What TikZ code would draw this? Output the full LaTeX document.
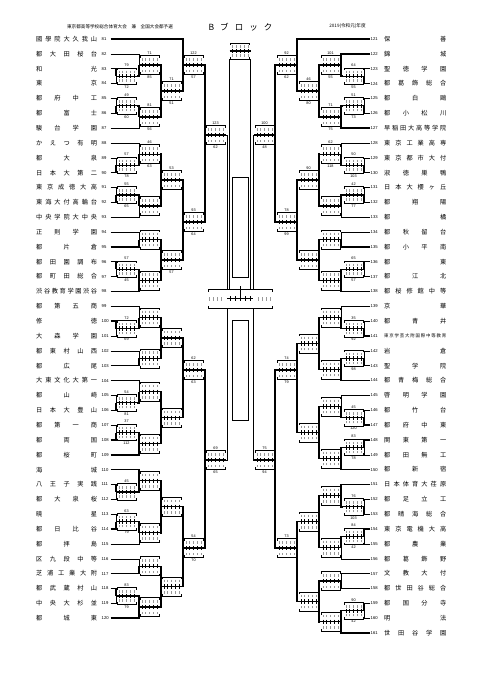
\documentclass[tikz,border=0pt]{standalone}
\usepackage{fontspec}
\newfontfamily\jp{Noto Sans CJK JP}
\newfontfamily\numf{Liberation Sans}
\newcommand\LWa{0.45pt}
\newcommand\LWb{1.4pt}
\newcommand\BX[5]{%
  \pgfmathsetmacro\bxa{#1+1}%
  \pgfmathsetmacro\bxb{#1+20}%
  \pgfmathsetmacro\bxc{#1+10.5}%
  \pgfmathsetmacro\byt{#2-#3}%
  \pgfmathsetmacro\byb{#2+#3}%
  \draw[lose] (\bxa,\byt+2.2) -- (\bxa,\byt) -- (\bxb,\byt) -- (\bxb,\byt+2.2);
  \draw[lose] (\bxa,\byb-2.2) -- (\bxa,\byb) -- (\bxb,\byb) -- (\bxb,\byb-2.2);
  \draw[line width=1.2pt] (#1,#2) -- ++(21,0);
  \foreach \k in {0,...,4}{%
    \pgfmathsetmacro\bxk{#1+2.7+\k*3.9}%
    \draw[line width=0.4pt] (\bxk,#2-2.2) -- (\bxk,#2+2.2);
    \draw[cellmk] (\bxk,\byt+2.6) -- (\bxk,\byt+5);
    \draw[cellmk] (\bxk,\byb-2.6) -- (\bxk,\byb-5);
  }%
  \node[sc] at (\bxc,\byt-2.7) {#4};
  \node[sc] at (\bxc,\byb+2.7) {#5};
}
\newcommand\MM[9]{%
  \edef\xz{\ifcase#1\or116\or139\or161\or183\or205\fi}%
  \edef\xs{\ifcase#1\or110.5\or137\or160\or182\or204\fi}%
  \if#5T\def\xst{110.5}\else\let\xst\xs\fi
  \if#6T\def\xsb{110.5}\else\let\xsb\xs\fi
  \let\lwT\LWa\let\lwB\LWa
  \if#5B\let\lwT\LWb\fi
  \if#6B\let\lwB\LWb\fi
  \if#7t\let\lwT\LWb\fi
  \if#7b\let\lwB\LWb\fi
  \ifnum#1=1 \def\hh{8.2}\else\def\hh{9.5}\fi
  \draw[line width=\lwT] (\xst,#3) -- (\xz,#3) -- (\xz,#2);
  \draw[line width=\lwB] (\xsb,#4) -- (\xz,#4) -- (\xz,#2);
  \BX{\xz}{#2}{\hh}{#8}{#9}%
}
\begin{document}
\begin{tikzpicture}[x=1pt,y=-1pt,
  lose/.style={line width=0.45pt},
  cellmk/.style={line width=0.35pt,gray!80},
  sc/.style={inner sep=0pt,font=\numf\fontsize{3.8}{4}\selectfont},
  nm/.style={anchor=west,inner sep=0pt,font=\jp\fontsize{6.2}{7}\selectfont},
  num/.style={anchor=west,inner sep=0pt,font=\numf\fontsize{4.2}{5}\selectfont},
  ttl/.style={inner sep=0pt,font=\jp\fontsize{4.6}{5}\selectfont}]
\useasboundingbox (0,0) rectangle (481,680);
\fill[white] (0,0) rectangle (481,680);
% header
\node[ttl] (title) at (120,26.5) {東京都高等学校総合体育大会　兼　全国大会都予選};
\node[inner sep=0pt,font=\jp\fontsize{8.5}{9}\selectfont] (blk) at (240.5,27) {\makebox[64pt][s]{B ブ ロ ッ ク}};
\node[ttl] (year) at (347.5,26.5) {2019(令和元)年度};
% left teams
\foreach \n/\t in {81/國 學 院 大 久 我 山,82/都 大 田 桜 台,83/和 光,84/東 京,85/都 府 中 工,86/都 富 士,87/駿 台 学 園,88/か え つ 有 明,89/都 大 泉,90/日 本 大 第 二,91/東 京 成 徳 大 高,92/東 海 大 付 高 輪 台,93/中 央 学 院 大 中 央,94/正 則 学 園,95/都 片 倉,96/都 田 園 調 布,97/都 町 田 総 合,98/渋 谷 教 育 学 園 渋 谷,99/都 第 五 商,100/修 徳,101/大 森 学 園,102/都 東 村 山 西,103/都 広 尾,104/大 東 文 化 大 第 一,105/都 山 崎,106/日 本 大 豊 山,107/都 第 一 商,108/都 両 国,109/都 桜 町,110/海 城,111/八 王 子 実 践,112/都 大 泉 桜,113/暁 星,114/都 日 比 谷,115/都 拝 島,116/区 九 段 中 等,117/芝 浦 工 業 大 附,118/都 武 蔵 村 山,119/中 央 大 杉 並,120/都 城 東}{
  \pgfmathsetmacro\yy{39+(\n-81)*14.85}
  \node[nm] (t\n) at (36,\yy) {\makebox[61pt][s]{\t}};
  \node[num] (n\n) at (101.5,\yy) {\n};
}
% right teams
\foreach \n/\t in {121/保 善,122/錦 城,123/聖 徳 学 園,124/都 葛 飾 総 合,125/都 白 鷗,126/都 小 松 川,127/早 稲 田 大 高 等 学 院,128/東 京 工 業 高 専,129/東 京 都 市 大 付,130/淑 徳 巣 鴨,131/日 本 大 櫻 ヶ 丘,132/都 翔 陽,133/都 橘,134/都 秋 留 台,135/都 小 平 南,136/都 東,137/都 江 北,138/都 桜 修 館 中 等,139/京 華,140/都 青 井,142/岩 倉,143/聖 学 院,144/都 青 梅 総 合,145/啓 明 学 園,146/都 竹 台,147/都 府 中 東,148/関 東 第 一,149/都 田 無 工,150/都 新 宿,151/日 本 体 育 大 荏 原,152/都 足 立 工,153/都 晴 海 総 合,154/東 京 電 機 大 高,155/都 農 業,156/都 葛 飾 野,157/文 教 大 付,158/都 世 田 谷 総 合,159/都 国 分 寺,160/明 法,161/世 田 谷 学 園}{
  \pgfmathsetmacro\yy{39+(\n-121)*14.85}
  \node[nm] (t\n) at (384,\yy) {\makebox[62pt][s]{\t}};
  \node[num] (n\n) at (370.5,\yy) {\n};
}
\node[nm,font=\jp\fontsize{4.4}{5}\selectfont] (t141) at (384,336) {\makebox[62pt][s]{東 京 学 芸 大 附 国 際 中 等 教 育}};
\node[num] (n141) at (370.5,336) {141};
% ---------- left bracket
\MM{1}{76.1}{68.7}{83.55}{T}{T}{t}{79}{72}
\MM{1}{105.8}{98.4}{113.25}{T}{T}{b}{49}{60}
\MM{1}{165.2}{157.8}{172.65}{T}{T}{b}{57}{78}
\MM{1}{194.9}{187.5}{202.35}{T}{T}{b}{55}{65}
\MM{1}{269.2}{261.75}{276.6}{T}{T}{t}{57}{45}
\MM{1}{328.6}{321.15}{336}{T}{T}{t}{72}{69}
\MM{1}{402.8}{395.4}{410.25}{T}{T}{b}{54}{81}
\MM{1}{432.5}{425.1}{439.95}{T}{T}{b}{37}{112}
\MM{1}{491.9}{484.5}{499.35}{T}{T}{t}{45}{}
\MM{1}{521.6}{514.2}{529.05}{T}{T}{b}{63}{79}
\MM{1}{595.9}{588.45}{603.3}{T}{T}{t}{83}{79}
\MM{2}{65}{53.85}{76.1}{T}{B}{b}{71}{85}
\MM{2}{117}{105.8}{128.1}{B}{T}{t}{81}{56}
\MM{2}{154.1}{142.95}{165.2}{T}{B}{b}{46}{63}
\MM{2}{206}{194.9}{217.2}{B}{T}{t}{}{}
\MM{2}{239.5}{232.05}{246.9}{T}{T}{b}{}{}
\MM{2}{280.3}{269.2}{291.45}{B}{T}{b}{}{}
\MM{2}{317.5}{306.3}{328.6}{T}{B}{b}{}{}
\MM{2}{358.3}{350.85}{365.7}{T}{T}{b}{}{}
\MM{2}{391.7}{380.55}{402.8}{T}{B}{b}{}{}
\MM{2}{443.7}{432.5}{454.8}{B}{T}{b}{}{}
\MM{2}{480.8}{469.65}{491.9}{T}{B}{t}{}{}
\MM{2}{532.8}{521.6}{543.9}{B}{T}{t}{}{}
\MM{2}{566.2}{558.75}{573.6}{T}{T}{b}{}{}
\MM{2}{607}{595.9}{618.15}{B}{T}{b}{}{}
\MM{3}{91}{65}{117}{B}{B}{t}{71}{51}
\MM{3}{180}{154.1}{206}{B}{B}{t}{53}{}
\MM{3}{260}{239.5}{280.3}{B}{B}{b}{}{57}
\MM{3}{337.9}{317.5}{358.3}{B}{B}{t}{}{}
\MM{3}{417.7}{391.7}{443.7}{B}{B}{t}{}{}
\MM{3}{506.8}{480.8}{532.8}{B}{B}{t}{}{}
\MM{3}{586.6}{566.2}{607}{B}{B}{t}{}{}
\MM{4}{65}{39}{91}{T}{B}{t}{122}{57}
\MM{4}{222}{180}{260}{B}{B}{t}{93}{64}
\MM{4}{370}{337.9}{417.7}{B}{B}{t}{62}{63}
\MM{4}{548}{506.8}{586.6}{B}{B}{t}{54}{70}
\MM{5}{135}{65}{222}{B}{B}{t}{123}{62}
\MM{5}{460}{370}{548}{B}{B}{t}{69}{65}
\draw[lose] (226,135) -- (227,135) -- (227,289.5);
\draw[lose] (226,460) -- (227,460) -- (227,308);
% ---------- right bracket (mirrored)
\begin{scope}[cm={-1,0,0,1,(480pt,0pt)}]
\MM{1}{76.1}{68.7}{83.55}{T}{T}{b}{64}{55}
\MM{1}{105.8}{98.4}{113.25}{T}{T}{b}{51}{73}
\MM{1}{165.2}{157.8}{172.65}{T}{T}{b}{50}{103}
\MM{1}{194.9}{187.5}{202.35}{T}{T}{b}{42}{77}
\MM{1}{269.2}{261.75}{276.6}{T}{T}{t}{65}{57}
\MM{1}{328.6}{321.15}{336}{T}{T}{b}{35}{92}
\MM{1}{358.3}{350.85}{365.7}{T}{T}{b}{}{98}
\MM{1}{417.7}{410.25}{425.1}{T}{T}{b}{45}{120}
\MM{1}{447.4}{439.95}{454.8}{T}{T}{t}{83}{78}
\MM{1}{506.8}{499.35}{514.2}{T}{T}{b}{76}{103}
\MM{1}{536.5}{529.05}{543.9}{T}{T}{t}{84}{42}
\MM{1}{610.7}{603.3}{618.15}{T}{T}{t}{90}{42}
\MM{2}{65}{53.85}{76.1}{T}{B}{t}{101}{55}
\MM{2}{117}{105.8}{128.1}{B}{T}{b}{71}{75}
\MM{2}{154.1}{142.95}{165.2}{T}{B}{b}{62}{118}
\MM{2}{206}{194.9}{217.2}{B}{T}{t}{}{}
\MM{2}{239.5}{232.05}{246.9}{T}{T}{b}{}{}
\MM{2}{280.3}{269.2}{291.45}{B}{T}{b}{}{}
\MM{2}{317.5}{306.3}{328.6}{T}{B}{b}{}{}
\MM{2}{369.5}{358.3}{380.55}{B}{T}{b}{}{}
\MM{2}{406.5}{395.4}{417.7}{T}{B}{b}{}{}
\MM{2}{458.5}{447.4}{469.65}{B}{T}{b}{}{}
\MM{2}{495.6}{484.5}{506.8}{T}{B}{t}{}{}
\MM{2}{547.6}{536.5}{558.75}{B}{T}{t}{}{}
\MM{2}{581}{573.6}{588.45}{T}{T}{b}{}{}
\MM{2}{621.8}{610.7}{633}{B}{T}{b}{}{}
\MM{3}{91}{65}{117}{B}{B}{b}{46}{80}
\MM{3}{180}{154.1}{206}{B}{B}{t}{90}{}
\MM{3}{260}{239.5}{280.3}{B}{B}{t}{}{}
\MM{3}{343.5}{317.5}{369.5}{B}{B}{t}{}{}
\MM{3}{432.5}{406.5}{458.5}{B}{B}{t}{}{}
\MM{3}{521.6}{495.6}{547.6}{B}{B}{t}{}{}
\MM{3}{601.4}{581}{621.8}{B}{B}{t}{}{}
\MM{4}{65}{39}{91}{T}{B}{t}{92}{62}
\MM{4}{222}{180}{260}{B}{B}{b}{78}{99}
\MM{4}{370}{343.5}{432.5}{B}{B}{t}{74}{79}
\MM{4}{548}{521.6}{601.4}{B}{B}{t}{73}{}
\MM{5}{135}{65}{222}{B}{B}{t}{100}{48}
\MM{5}{460}{370}{548}{B}{B}{t}{75}{94}
\draw[lose] (226,135) -- (227,135) -- (227,289.5);
\draw[lose] (226,460) -- (227,460) -- (227,308);
\end{scope}
% ---------- centre
\draw[line width=0.9pt] (232,177) rectangle (248,277);
\draw[line width=0.9pt] (232,320) rectangle (248,420);
\draw[lose] (229.5,59.2) -- (229.5,289.5);
\draw[lose] (250.5,59.2) -- (250.5,289.5);
\draw[lose] (208,291.5) -- (208,289.5) -- (272,289.5) -- (272,291.5);
\draw[lose] (208,306) -- (208,308) -- (272,308) -- (272,306);
\draw[line width=1.2pt] (227,298.5) -- (253,298.5);
\foreach \xx in {209.5,213.5,217.5,221.5,258.5,262.5,266.5,270.5}{\draw[cellmk] (\xx,297) -- (\xx,300.5);}
\foreach \xx in {230,235,240,245,250}{\draw[line width=0.4pt] (\xx,296.3) -- (\xx,300.7);}
\draw[lose] (240,286) -- (240,296);
% top box
\BX{229.5}{51}{8.2}{}{}
\end{tikzpicture}
\end{document}
